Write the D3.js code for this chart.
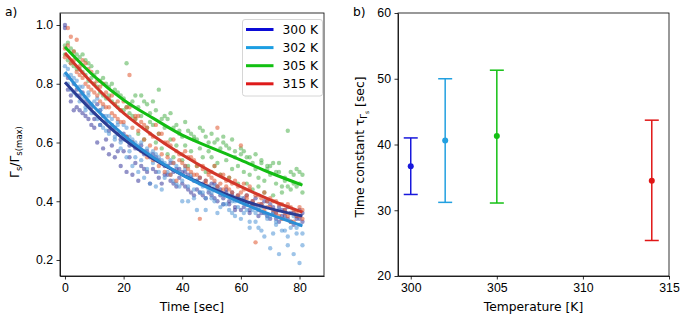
<!DOCTYPE html>
<html>
<head>
<meta charset="utf-8">
<script src="https://cdn.jsdelivr.net/npm/d3@7"></script>
<style>
  body { margin: 0; background: #fff; }
  svg { font-family: "DejaVu Sans", sans-serif; }
  .axis text { font-size: 12.3px; fill: #000; }
  .axis path, .axis line { stroke: #000; stroke-width: 0.8; }
</style>
</head>
<body>
<div id="chart"></div>
<script>
// sample times [sec], two samples per time for every temperature
var timeSec = [0,1,2,3,4,5,6,7,8,9,10,11,12,13,14,15,16,17,18,19,20,21,22,23,24,25,26,27,28,29,
  30,31,32,33,34,35,36,37,38,39,40,41,42,43,44,45,46,47,48,49,50,51,52,53,54,55,56,57,58,59,
  60,61,62,63,64,65,66,67,68,69,70,71,72,73,74,75,76,77,78,79,80,81];

var rel300a = [1.00,.78,.74,.80,.72, .71,.77,.69,.73,.66, .68,.60,.71,.58,.67, .56,.66,.55,.63,.52,
  .57,.62,.55,.60,.53, .58,.52,.56,.50,.55, .51,.55,.48,.53,.49, .52,.47,.50,.45,.51,
  .46,.50,.44,.48,.42, .47,.43,.46,.41,.45, .42,.46,.40,.44,.41, .43,.39,.42,.38,.41,
  .37,.41,.39,.36,.40, .38,.35,.39,.36,.40, .34,.38,.36,.33,.37, .35,.38,.33,.36,.34, .37,.33];
var rel300b = [.99,.82,.76,.71,.78, .76,.70,.74,.68,.72, .65,.73,.66,.69,.61, .64,.59,.65,.57,.61,
  .63,.50,.59,.49,.58, .47,.59,.51,.57,.46, .56,.50,.54,.46,.52, .49,.53,.46,.51,.48,
  .50,.45,.49,.43,.47, .44,.48,.42,.47,.43, .46,.41,.45,.42,.39, .44,.40,.43,.37,.42,
  .40,.38,.42,.37,.39, .41,.37,.36,.40,.35, .39,.36,.34,.38,.35, .37,.34,.36,.32,.35, .34,.36];

var rel302a = [.86,.80,.83,.77,.81, .74,.79,.72,.76,.70, .74,.68,.71,.65,.69, .63,.68,.61,.66,.60,
  .66,.55,.62,.52,.60, .50,.60,.48,.58,.46, .57,.45,.55,.44,.53, .50,.54,.47,.52,.45,
  .40,.51,.40,.48,.44, .37,.46,.43,.37,.45, .41,.45,.36,.43,.39, .42,.37,.40,.35,.41,
  .34,.40,.37,.33,.39, .36,.31,.38,.28,.35, .24,.36,.32,.22,.34, .30,.25,.33,.22,.31, .19,.29];
var rel302b = [.83,.85,.78,.82,.76, .79,.75,.71,.77,.73, .70,.75,.66,.72,.64, .69,.65,.62,.67,.58,
  .61,.65,.57,.61,.55, .59,.54,.57,.51,.56, .53,.56,.50,.54,.48, .52,.49,.53,.46,.50,
  .47,.52,.45,.49,.41, .47,.43,.45,.41,.44, .43,.40,.44,.38,.42, .39,.42,.36,.40,.38,
  .41,.36,.39,.31,.37, .33,.38,.30,.36,.34, .35,.29,.33,.37,.30, .34,.28,.31,.35,.29, .32,.25];

var rel305a = [.90,.94,.87,.91,.85, .89,.84,.88,.81,.86, .80,.84,.77,.82,.75, .79,.74,.78,.72,.76,
  .71,.87,.73,.69,.76, .63,.76,.61,.73,.67, .74,.60,.78,.58,.69, .56,.70,.55,.66,.63,
  .54,.67,.52,.63,.61, .52,.65,.64,.50,.60, .55,.60,.53,.58,.62, .54,.58,.51,.57,.52,
  .56,.50,.55,.49,.53, .51,.48,.54,.47,.52, .49,.53,.46,.50,.45, .47,.64,.44,.49,.45, .50,.43];
var rel305b = [.93,.88,.92,.86,.90, .85,.90,.83,.87,.82, .83,.79,.81,.76,.80, .76,.80,.73,.77,.71,
  .75,.72,.70,.74,.68, .72,.69,.74,.65,.70, .66,.71,.63,.68,.65, .68,.61,.65,.59,.64,
  .62,.59,.64,.57,.62, .61,.58,.55,.62,.57, .63,.52,.61,.49,.60, .59,.48,.61,.55,.46,
  .58,.57,.46,.55,.44, .56,.45,.53,.43,.51, .52,.42,.50,.53,.43, .48,.45,.50,.46,.51, .46,.49];

var rel315a = [.89,.93,.96,.88,.95, .86,.82,.87,.79,.84, .77,.81,.74,.80,.72, .75,.70,.73,.68,.71,
  .67,.72,.83,.65,.69, .64,.67,.61,.65,.59, .62,.58,.63,.56,.60, .55,.59,.53,.57,.54,
  .56,.52,.55,.50,.54, .49,.34,.52,.47,.50, .48,.52,.65,.46,.49, .45,.48,.43,.47,.42,
  .59,.44,.42,.45,.40, .26,.42,.39,.43,.38, .41,.37,.40,.35,.39, .36,.39,.33,.37,.35, .38,.34];
var rel315b = [.92,.99,.87,.91,.84, .83,.88,.80,.85,.78, .80,.76,.79,.73,.77, .72,.76,.69,.74,.67,
  .74,.62,.72,.60,.68, .69,.57,.66,.55,.63, .54,.66,.52,.63,.50, .60,.49,.61,.47,.56,
  .53,.57,.51,.55,.49, .52,.48,.51,.46,.49, .50,.47,.45,.49,.44, .47,.44,.46,.41,.45,
  .43,.46,.41,.44,.39, .42,.39,.41,.37,.40, .38,.40,.36,.39,.34, .37,.35,.38,.33,.36, .35,.37];

// fitted decay curves
var fitTime = [0,10,20,30,40,50,60,70,81];
var fit300 = [.805,.70,.612,.545,.49,.445,.405,.375,.35];
var fit302 = [.84,.72,.625,.55,.49,.44,.395,.355,.316];
var fit305 = [.925,.825,.745,.683,.625,.582,.54,.497,.455];
var fit315 = [.905,.795,.70,.624,.558,.50,.45,.405,.363];

var tempLabels = ["300 K","302 K","305 K","315 K"];

// panel b: time constants
var temperature = [300, 302, 305, 314];
var tauCenter = [36.7, 40.6, 41.3, 34.5];
var tauLow = [32.4, 31.2, 31.1, 25.4];
var tauHigh = [41.0, 50.0, 51.3, 43.7];

var legendColors = ["#0b0bd6", "#1c9ee2", "#12c012", "#de1a1a"];
var lineColors = ["#2b3c93", "#2a8ed6", "#12bd12", "#d2372a"];
var dotColors = ["#38389a", "#4f93d6", "#4fb04f", "#e0552e"];
var barColors = ["#1818dc", "#22a0e0", "#14c014", "#e01616"];

var svg = d3.select("#chart").append("svg")
    .attr("width", 693)
    .attr("height", 326);

// ---------- panel a ----------
var xA = d3.scaleLinear().domain([-1.7, 88.35]).range([60, 324]);
var yA = d3.scaleLinear().domain([0.1455, 1.0409]).range([276, 13]);

var gA = svg.append("g");
var rawSets = [[rel300a, rel300b], [rel302a, rel302b], [rel305a, rel305b], [rel315a, rel315b]];

rawSets.forEach(function (pair, k) {
    var pts = [];
    pair.forEach(function (arr) {
        arr.forEach(function (v, i) { pts.push({t: timeSec[i], v: v}); });
    });
    gA.append("g").selectAll("circle").data(pts).enter()
        .append("circle")
        .attr("cx", function (d) { return xA(d.t); })
        .attr("cy", function (d) { return yA(d.v); })
        .attr("r", 2.2)
        .attr("fill", dotColors[k])
        .attr("fill-opacity", 0.55);
});

var fits = [fit300, fit302, fit305, fit315];
var line = d3.line()
    .x(function (d) { return xA(d[0]); })
    .y(function (d) { return yA(d[1]); })
    .curve(d3.curveMonotoneX);

fits.forEach(function (f, k) {
    gA.append("path")
        .datum(fitTime.map(function (t, i) { return [t, f[i]]; }))
        .attr("d", line)
        .attr("fill", "none")
        .attr("stroke", lineColors[k])
        .attr("stroke-width", 3);
});

svg.append("g").attr("class", "axis")
    .attr("transform", "translate(0,276)")
    .call(d3.axisBottom(xA).tickValues([0,20,40,60,80]).tickSize(3.5).tickPadding(3.5).tickSizeOuter(0));
svg.append("g").attr("class", "axis")
    .attr("transform", "translate(60,0)")
    .call(d3.axisLeft(yA).tickValues([0.2,0.4,0.6,0.8,1.0]).tickFormat(d3.format(".1f"))
        .tickSize(3.5).tickPadding(3.5).tickSizeOuter(0));
svg.append("rect").attr("x", 60).attr("y", 13).attr("width", 264).attr("height", 263)
    .attr("fill", "none").attr("stroke", "#000").attr("stroke-width", 0.8);

// legend
var leg = svg.append("g");
leg.append("rect").attr("x", 242.5).attr("y", 19.5).attr("width", 80).attr("height", 76.5)
    .attr("rx", 2.5).attr("fill", "#fff").attr("fill-opacity", 0.8)
    .attr("stroke", "#cccccc").attr("stroke-width", 0.8);
tempLabels.forEach(function (lab, k) {
    var yy = 29.5 + k * 18.1;
    leg.append("line").attr("x1", 246).attr("x2", 273.5).attr("y1", yy).attr("y2", yy)
        .attr("stroke", legendColors[k]).attr("stroke-width", 3);
    leg.append("text").attr("x", 282.5).attr("y", yy + 4.4).attr("font-size", 12.3).text(lab);
});

svg.append("text").attr("x", 192).attr("y", 311).attr("text-anchor", "middle")
    .attr("font-size", 12.3).text("Time [sec]");

var ylab = svg.append("text").attr("transform", "translate(19,152) rotate(-90)")
    .attr("text-anchor", "middle").attr("font-size", 12.3);
ylab.append("tspan").text("Γ");
ylab.append("tspan").attr("font-size", 8.5).attr("dy", 3).text("s");
ylab.append("tspan").attr("dy", -3).text("/Γ");
ylab.append("tspan").attr("font-size", 8.5).attr("dy", 3).text("s(max)");

svg.append("text").attr("x", 5).attr("y", 16).attr("font-size", 12.3).text("a)");

// ---------- panel b ----------
var xB = d3.scaleLinear().domain([299.26, 315]).range([398, 669]);
var yB = d3.scaleLinear().domain([20, 60]).range([276, 13]);

var gB = svg.append("g");
temperature.forEach(function (T, k) {
    var cx = xB(T);
    gB.append("line").attr("x1", cx).attr("x2", cx)
        .attr("y1", yB(tauLow[k])).attr("y2", yB(tauHigh[k]))
        .attr("stroke", barColors[k]).attr("stroke-width", 1.5);
    [tauLow[k], tauHigh[k]].forEach(function (v) {
        gB.append("line").attr("x1", cx - 7).attr("x2", cx + 7)
            .attr("y1", yB(v)).attr("y2", yB(v))
            .attr("stroke", barColors[k]).attr("stroke-width", 1.5);
    });
    gB.append("circle").attr("cx", cx).attr("cy", yB(tauCenter[k])).attr("r", 3)
        .attr("fill", barColors[k]);
});

svg.append("g").attr("class", "axis")
    .attr("transform", "translate(0,276)")
    .call(d3.axisBottom(xB).tickValues([300,305,310,315]).tickSize(3.5).tickPadding(3.5).tickSizeOuter(0));
svg.append("g").attr("class", "axis")
    .attr("transform", "translate(398,0)")
    .call(d3.axisLeft(yB).tickValues([20,30,40,50,60]).tickSize(3.5).tickPadding(3.5).tickSizeOuter(0));
svg.append("rect").attr("x", 398).attr("y", 13).attr("width", 271).attr("height", 263)
    .attr("fill", "none").attr("stroke", "#000").attr("stroke-width", 0.8);

svg.append("text").attr("x", 533.5).attr("y", 311).attr("text-anchor", "middle")
    .attr("font-size", 12.3).text("Temperature [K]");

var ylabB = svg.append("text").attr("transform", "translate(364,147) rotate(-90)")
    .attr("text-anchor", "middle").attr("font-size", 12.3);
ylabB.append("tspan").text("Time constant τ");
ylabB.append("tspan").attr("font-size", 8.5).attr("dy", 3).text("Γ");
ylabB.append("tspan").attr("font-size", 6).attr("dy", 1.5).text("s");
ylabB.append("tspan").attr("dy", -4.5).text(" [sec]");

svg.append("text").attr("x", 353).attr("y", 16).attr("font-size", 12.3).text("b)");
</script>
</body>
</html>
